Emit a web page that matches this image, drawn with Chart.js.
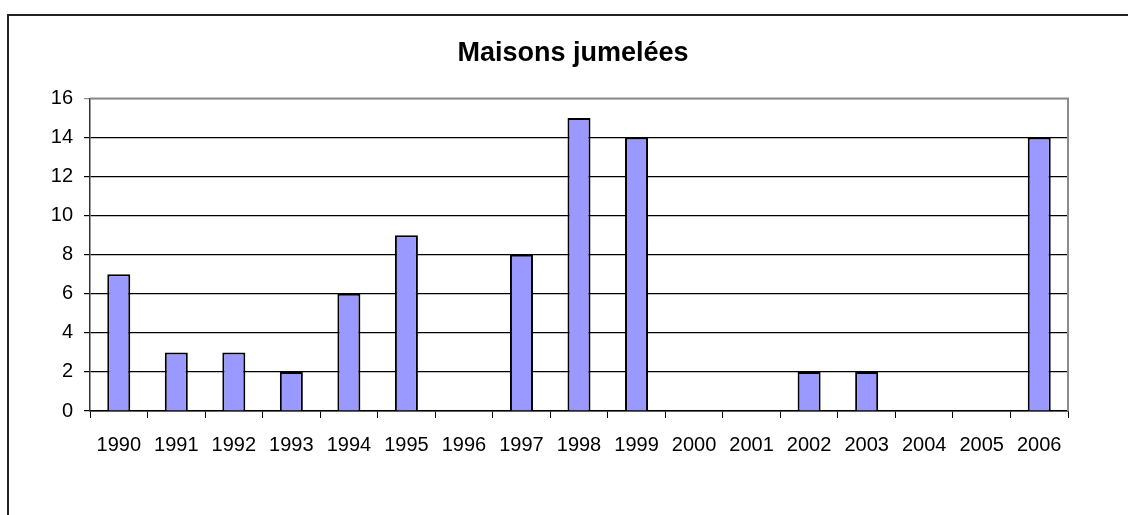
<!DOCTYPE html>
<html>
<head>
<meta charset="utf-8">
<script src="https://cdn.jsdelivr.net/npm/chart.js@4/dist/chart.umd.min.js"></script>
<style>
  html, body { margin: 0; padding: 0; background: #fff; }
  #wrap { width: 1128px; height: 515px; }
</style>
</head>
<body>
<div id="wrap"><canvas id="myChart" width="1128" height="515"></canvas></div>
<script>
var years = ['1990', '1991', '1992', '1993', '1994', '1995', '1996', '1997', '1998',
             '1999', '2000', '2001', '2002', '2003', '2004', '2005', '2006'];
var maisons = [7, 3, 3, 2, 6, 9, 0, 8, 15, 14, 0, 0, 2, 2, 0, 0, 14];
var yMax = 16;
var yStep = 2;

// frame around the whole chart + gray plot border on top / right
var frames = {
    id: 'frames',
    afterLayout: function (chart) {
        // centre the title over the whole frame, not just the padded box
        if (chart.titleBlock) {
            chart.titleBlock.left = 18;
            chart.titleBlock.right = chart.width;
        }
    },
    beforeDraw: function (chart) {
        var ctx = chart.ctx;
        ctx.save();
        ctx.strokeStyle = '#222';
        ctx.lineWidth = 2;
        ctx.beginPath();
        ctx.moveTo(8, 515);
        ctx.lineTo(8, 15);
        ctx.lineTo(1128, 15);
        ctx.stroke();
        ctx.restore();
    },
    afterDraw: function (chart) {
        var a = chart.chartArea;
        var ctx = chart.ctx;
        ctx.save();
        ctx.strokeStyle = '#8c8c8c';
        ctx.lineWidth = 2;
        ctx.beginPath();
        ctx.moveTo(a.left, a.top);
        ctx.lineTo(a.right, a.top);
        ctx.lineTo(a.right, a.bottom);
        ctx.stroke();
        ctx.restore();
    }
};

Chart.defaults.font.family = '"Liberation Sans", Arial, sans-serif';
Chart.defaults.color = '#000';

var canvas = document.getElementById('myChart');
new Chart(canvas, {
    type: 'bar',
    data: {
        labels: years,
        datasets: [{
            data: maisons,
            backgroundColor: '#9999FF',
            borderColor: '#000',
            borderWidth: 2,
            categoryPercentage: 1,
            barPercentage: 0.4
        }]
    },
    options: {
        responsive: false,
        animation: false,
        layout: { padding: { left: 0, right: 60, top: 0, bottom: 0 } },
        plugins: {
            legend: { display: false },
            tooltip: { enabled: false },
            title: {
                display: true,
                text: 'Maisons jumelées',
                color: '#000',
                font: { size: 27, weight: 'bold' },
                padding: { top: 37, bottom: 29 }
            }
        },
        scales: {
            x: {
                afterFit: function (s) { s.height = 104; },
                grid: {
                    offset: true,
                    drawOnChartArea: false,
                    color: '#000',
                    tickLength: 7
                },
                border: { color: '#000', width: 1.5 },
                ticks: { font: { size: 20 }, padding: 15, maxRotation: 0, autoSkip: false }
            },
            y: {
                min: 0,
                max: yMax,
                afterFit: function (s) { s.width = 90; },
                grid: {
                    color: function (c) { return c.tick && c.tick.value === yMax ? '#8c8c8c' : '#000'; },
                    lineWidth: 1.2,
                    tickLength: 6
                },
                border: { color: '#333', width: 1.5 },
                ticks: { stepSize: yStep, font: { size: 20 }, padding: 11 }
            }
        }
    },
    plugins: [frames]
});
</script>
</body>
</html>
